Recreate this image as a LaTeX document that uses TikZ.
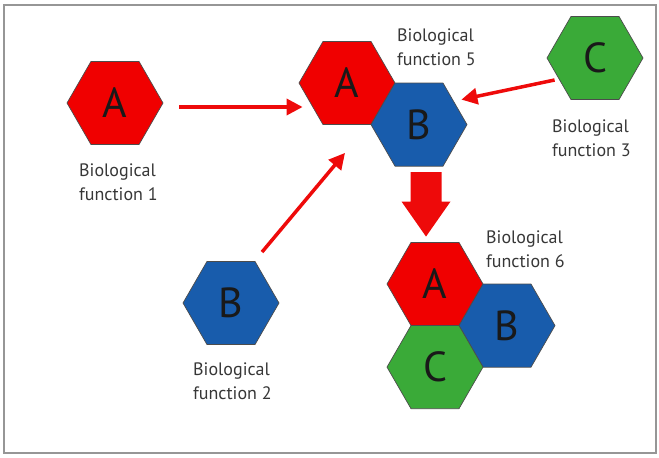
\documentclass[tikz,border=0pt]{standalone}
\usepackage{fontspec}
\setmainfont{PT Sans}
\usetikzlibrary{shapes.geometric,arrows.meta,calc}
\definecolor{hexred}{RGB}{240,0,0}
\definecolor{hexblue}{RGB}{24,92,172}
\definecolor{hexgreen}{RGB}{58,170,56}
\definecolor{arrred}{RGB}{238,10,10}
\definecolor{framegray}{RGB}{150,150,150}
\definecolor{labelgray}{RGB}{55,55,55}
\begin{document}
\begin{tikzpicture}[x=1pt,y=-1pt,
  hex/.style={regular polygon, regular polygon sides=6, minimum size=96pt,
    inner sep=0pt, draw=black!70, line width=0.7pt,
    font=\fontsize{42}{42}\selectfont, text=black!90},
  redhex/.style={hex, fill=hexred},
  bluehex/.style={hex, fill=hexblue},
  greenhex/.style={hex, fill=hexgreen},
  lbl/.style={anchor=base west, align=left, inner sep=0pt,
    font=\fontsize{18}{24}\selectfont, text=labelgray},
  arr/.style={draw=arrred, line width=3.5pt,
    -{Triangle[length=16pt,width=16pt]}},
  bigarr/.style={fill=arrred},
  framebox/.style={draw=framegray, line width=1.5pt}
]
\useasboundingbox (0,0) rectangle (659,458);
\draw[framebox] (4,5) rectangle (656,453);

% hexagons
\node[redhex]   (A1) at (115,103) {A};
\node[bluehex]  (B2) at (231,303) {B};
\node[greenhex] (C3) at (595,58)  {C};
\node[redhex]   (A5) at (347,83)  {A};
\node[bluehex]  (B5) at (419,124.6) {B};
\node[redhex]   (A6) at (435,284) {A};
\node[bluehex]  (B6) at (507,325.6) {B};
\node[greenhex] (C6) at (435,367.1) {C};

% labels (anchor = baseline of the second line)
\node[lbl] (L1) at (79,200)  {Biological\\function 1};
\node[lbl] (L2) at (193,399) {Biological\\function 2};
\node[lbl] (L3) at (552,156) {Biological\\function 3};
\node[lbl] (L5) at (397,65)  {Biological\\function 5};
\node[lbl] (L6) at (486,267) {Biological\\function 6};

% thin arrows
\coordinate (a1s) at ($(A1.east)+(16,4)$);
\coordinate (a1e) at ($(A5.west)+(4,24)$);
\coordinate (a2s) at ($(B2.north)+(31,-9)$);
\coordinate (a2e) at ($(A5.south)+(-2,28)$);
\coordinate (a3s) at ($(C3.west)+(8,22)$);
\coordinate (a3e) at ($(B5.east)+(-6,-25)$);
\draw[arr] (a1s) -- (a1e);
\draw[arr] (a2s) -- (a2e);
\draw[arr] (a3s) -- (a3e);

% big arrow
\coordinate (bs) at ($(B5.south)+(7,5.5)$);
\coordinate (be) at ($(A6.north)+(-9,-5.5)$);
\fill[bigarr] ($(bs)+(-15.5,0)$) -- ($(bs)+(15.5,0)$) -- ($(be)+(15.5,-35)$)
  -- ($(be)+(24.5,-35)$) -- (be) -- ($(be)+(-24.5,-35)$) -- ($(be)+(-15.5,-35)$) -- cycle;
\end{tikzpicture}
\end{document}
